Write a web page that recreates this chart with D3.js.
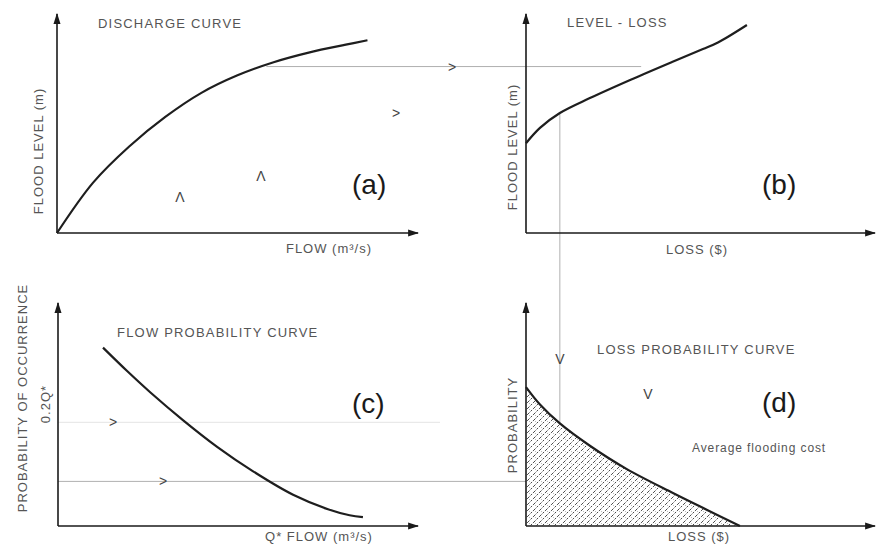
<!DOCTYPE html>
<html lang="en">
<head>
<meta charset="utf-8">
<title>Flood damage curves</title>
<script src="https://cdn.jsdelivr.net/npm/d3@7"></script>
<style>
  body { margin: 0; background: #fff; }
  .lbl { font-family: "Liberation Sans", Arial, sans-serif; fill: #555; }
  .title { font-size: 13px; letter-spacing: 1.2px; }
  .axlbl { font-size: 13px; letter-spacing: 1px; }
  .tag { font-size: 28px; fill: #1a1a1a; letter-spacing: 0; }
  .chev { font-size: 14px; fill: #444; text-anchor: middle; dominant-baseline: central; }
  .axis { stroke: #1a1a1a; stroke-width: 1.6; fill: none; }
  .curve { stroke: #1e1e1e; stroke-width: 2.2; fill: none; }
  .guide { stroke: #b0b0b0; stroke-width: 1; fill: none; }
  .faint { stroke: #e4e4e4; stroke-width: 1; fill: none; }
</style>
</head>
<body>
<div id="chart"></div>
<script>
// curve points in panel units (0-100 on each axis)
var dischargeFlow  = [0, 10, 20, 30, 40, 50, 60, 70, 80, 86];
var dischargeLevel = [0, 23, 39.5, 53, 64, 72, 78, 82.5, 86, 88];

var lossValue = [0, 4, 9.7, 18.3, 30, 42, 50.7, 55, 63.3];
var lossLevel = [41, 48, 54.8, 61.6, 70, 78.2, 84, 87, 95];

var probFlow = [12.5, 19.2, 25.6, 34.7, 44.2, 54.2, 65.3, 75, 81, 84.7];
var probOcc  = [80, 69.5, 60, 47.5, 35.5, 24.5, 14, 7.5, 4.8, 4];

var lossProbLoss = [0, 4, 9.7, 18.3, 28.9, 42.1, 51.9, 61.3];
var lossProbP    = [62.3, 54.5, 46, 36, 25.5, 14.8, 7.2, 0];

// guide levels
var designLevel = 76;     // level
var designLoss = 9.7;     // loss
var designProb = 20;      // probability
var faintProb = 46.5;

var titles = ["DISCHARGE CURVE", "LEVEL - LOSS", "FLOW PROBABILITY CURVE", "LOSS PROBABILITY CURVE"];
var xLabels = ["FLOW (m\u00b3/s)", "LOSS ($)", "Q* FLOW (m\u00b3/s)", "LOSS ($)"];
var yLabels = ["FLOOD LEVEL (m)", "FLOOD LEVEL (m)", "PROBABILITY OF OCCURRENCE", "PROBABILITY"];
var tags = ["(a)", "(b)", "(c)", "(d)"];

var W = 877, H = 547;

var svg = d3.select("#chart").append("svg")
    .attr("width", W).attr("height", H);

var defs = svg.append("defs");
defs.append("marker")
    .attr("id", "arr")
    .attr("viewBox", "0 0 10 10")
    .attr("refX", 9).attr("refY", 5)
    .attr("markerWidth", 11).attr("markerHeight", 11)
    .attr("markerUnits", "userSpaceOnUse")
    .attr("orient", "auto")
    .append("path").attr("d", "M0,1.8 L10,5 L0,8.2 Z").attr("fill", "#1a1a1a");

var pat = defs.append("pattern")
    .attr("id", "hatch")
    .attr("patternUnits", "userSpaceOnUse")
    .attr("width", 6).attr("height", 6);
pat.append("path").attr("d", "M0,6 L6,0")
    .attr("stroke", "#333").attr("stroke-width", 0.9).attr("stroke-dasharray", "2.2,1.4");
pat.append("circle").attr("cx", 1.5).attr("cy", 1.5).attr("r", 0.45).attr("fill", "#777");

// panel scales
var panels = [
  { x: d3.scaleLinear().domain([0, 100]).range([57, 418]), y: d3.scaleLinear().domain([0, 100]).range([233, 14]) },
  { x: d3.scaleLinear().domain([0, 100]).range([526, 875]), y: d3.scaleLinear().domain([0, 100]).range([233, 14]) },
  { x: d3.scaleLinear().domain([0, 100]).range([58, 418]), y: d3.scaleLinear().domain([0, 100]).range([526, 303]) },
  { x: d3.scaleLinear().domain([0, 100]).range([526, 875]), y: d3.scaleLinear().domain([0, 100]).range([526, 303]) }
];

var a = panels[0], b = panels[1], c = panels[2], d = panels[3];

// guide lines first so axes sit on top
svg.append("line").attr("class", "faint")
   .attr("x1", c.x(0)).attr("x2", 440)
   .attr("y1", c.y(faintProb)).attr("y2", c.y(faintProb));

svg.append("line").attr("class", "guide")
   .attr("x1", a.x(58)).attr("x2", b.x(33))
   .attr("y1", a.y(designLevel)).attr("y2", a.y(designLevel));

svg.append("line").attr("class", "guide")
   .attr("x1", b.x(designLoss)).attr("x2", b.x(designLoss))
   .attr("y1", b.y(54.8)).attr("y2", d.y(46));

svg.append("line").attr("class", "guide")
   .attr("x1", c.x(0)).attr("x2", d.x(0))
   .attr("y1", c.y(designProb)).attr("y2", c.y(designProb));

// shaded area under the loss probability curve
var lpData = lossProbLoss.map(function(v, i) { return [v, lossProbP[i]]; });
svg.append("path")
   .datum(lpData)
   .attr("fill", "url(#hatch)")
   .attr("d", d3.area().curve(d3.curveCatmullRom)
        .x(function(p) { return d.x(p[0]); })
        .y0(d.y(0))
        .y1(function(p) { return d.y(p[1]); }));

// axes with arrows
panels.forEach(function(p) {
    svg.append("line").attr("class", "axis")
       .attr("x1", p.x(0)).attr("y1", p.y(0))
       .attr("x2", p.x(0)).attr("y2", p.y(100))
       .attr("marker-end", "url(#arr)");
    svg.append("line").attr("class", "axis")
       .attr("x1", p.x(0)).attr("y1", p.y(0))
       .attr("x2", p.x(100)).attr("y2", p.y(0))
       .attr("marker-end", "url(#arr)");
});

// curves
function drawCurve(p, xs, ys) {
    var pts = xs.map(function(v, i) { return [v, ys[i]]; });
    svg.append("path").datum(pts).attr("class", "curve")
       .attr("d", d3.line().curve(d3.curveCatmullRom)
            .x(function(q) { return p.x(q[0]); })
            .y(function(q) { return p.y(q[1]); }));
}
drawCurve(a, dischargeFlow, dischargeLevel);
drawCurve(b, lossValue, lossLevel);
drawCurve(c, probFlow, probOcc);
drawCurve(d, lossProbLoss, lossProbP);

// titles
var titlePos = [[98, 28], [567, 27], [117, 337], [597, 354]];
titles.forEach(function(t, i) {
    svg.append("text").attr("class", "lbl title")
       .attr("x", titlePos[i][0]).attr("y", titlePos[i][1]).text(t);
});

// x labels
var xPos = [[329, 253], [697, 254], [319, 541], [699, 541]];
xLabels.forEach(function(t, i) {
    svg.append("text").attr("class", "lbl axlbl")
       .attr("text-anchor", "middle")
       .attr("x", xPos[i][0]).attr("y", xPos[i][1]).text(t);
});

// y labels (rotated)
var yPos = [[43, 151], [517, 147], [27, 398], [517, 425]];
yLabels.forEach(function(t, i) {
    svg.append("text").attr("class", "lbl axlbl")
       .attr("text-anchor", "middle")
       .attr("transform", "translate(" + yPos[i][0] + "," + yPos[i][1] + ") rotate(-90)")
       .text(t);
});

svg.append("text").attr("class", "lbl axlbl")
   .attr("text-anchor", "middle")
   .attr("transform", "translate(50,404) rotate(-90)")
   .text("0.2Q*");

// panel tags
var tagPos = [[352, 194], [762, 194], [352, 413], [762, 412]];
tags.forEach(function(t, i) {
    svg.append("text").attr("class", "lbl tag")
       .attr("x", tagPos[i][0]).attr("y", tagPos[i][1]).text(t);
});

svg.append("text").attr("class", "lbl axlbl")
   .attr("x", 692).attr("y", 452).style("font-size", "12px").style("letter-spacing", "0.9px")
   .text("Average flooding cost");

// direction chevrons
var chevrons = [
    [">", 452, a.y(designLevel)],
    [">", 396, 113],
    ["\u039b", 180, 197],
    ["\u039b", 261, 176],
    [">", 113, c.y(faintProb)],
    [">", 163, c.y(designProb)],
    ["V", b.x(designLoss), 359],
    ["V", 648, 394]
];
chevrons.forEach(function(ch) {
    svg.append("text").attr("class", "lbl chev")
       .attr("x", ch[1]).attr("y", ch[2]).text(ch[0]);
});
</script>
</body>
</html>
